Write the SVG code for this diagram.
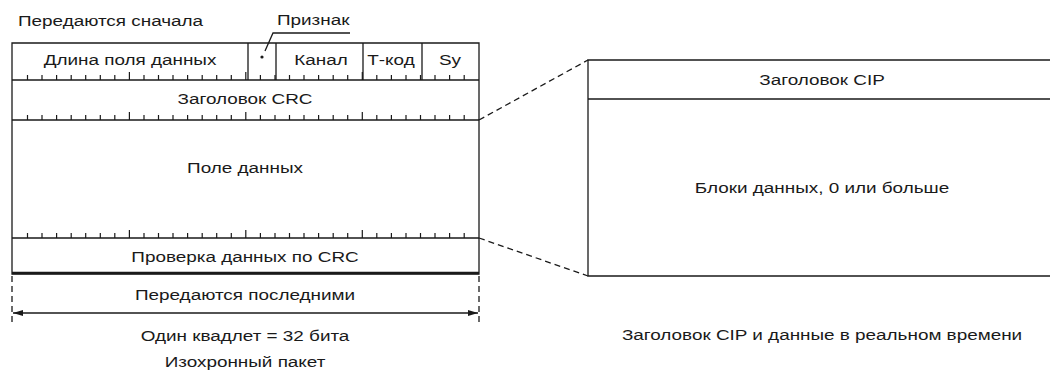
<svg xmlns="http://www.w3.org/2000/svg" width="1050" height="371" viewBox="0 0 1050 371">
<defs>
<style>
text{font-family:"Liberation Sans",Arial,sans-serif;font-size:15.5px;fill:#1a1a1a}
.c{text-anchor:middle}
.ln{stroke:#1a1a1a;stroke-width:1.3;fill:none}
.tk{stroke:#1a1a1a;stroke-width:1.2}
.ds{stroke:#1a1a1a;stroke-width:1.3;stroke-dasharray:6 4;fill:none}
</style>
<marker id="ar" viewBox="0 0 10 6" refX="10" refY="3" markerWidth="10" markerHeight="6" orient="auto-start-reverse" markerUnits="userSpaceOnUse">
<path d="M0,0 L10,3 L0,6 Z" fill="#1a1a1a"/>
</marker>
<g id="ticks">
<path class="tk" d="M27.5,0v-5M42,0v-5M56.6,0v-5M71.2,0v-5M85.7,0v-5M100.3,0v-5M114.8,0v-5M129.4,0v-8M144,0v-5M158.5,0v-5M173,0v-5M187.6,0v-5M202.2,0v-5M216.7,0v-5M231.3,0v-5M245.8,0v-8M260.4,0v-5M275,0v-5M289.5,0v-5M304,0v-5M318.6,0v-5M333.2,0v-5M347.7,0v-5M362.3,0v-8M376.8,0v-5M391.4,0v-5M406,0v-5M420.5,0v-5M435,0v-5M449.6,0v-5M464.2,0v-5"/>
</g>
</defs>

<text transform="translate(18,26) scale(1.22,1)">Передаются сначала</text>

<g id="isochronous-packet">
<path class="ln" d="M12,43H479V274H12Z"/>
<path class="ln" d="M12,80H479M12,120H479M12,238H479"/>
<path stroke="#1a1a1a" stroke-width="2.4" d="M12,273H479"/>
<use href="#ticks" y="80"/>
<use href="#ticks" y="120"/>
<use href="#ticks" y="238"/>
</g>

<g id="field-length"><text class="c" transform="translate(130,65) scale(1.22,1)">Длина поля данных</text></g>
<g id="field-tag">
<path class="ln" d="M248,43V80M276,43V80"/>
<path class="ln" d="M350,33H273L265,51"/>
<circle cx="262" cy="57" r="1.6" fill="#1a1a1a"/>
<text transform="translate(277,25) scale(1.22,1)">Признак</text>
</g>
<g id="field-channel"><path class="ln" d="M363,43V80"/><text class="c" transform="translate(321,65) scale(1.22,1)">Канал</text></g>
<g id="field-tcode"><path class="ln" d="M422,43V80"/><text class="c" transform="translate(391,65) scale(1.22,1)">Т-код</text></g>
<g id="field-sy"><text class="c" transform="translate(450,65) scale(1.22,1)">Sy</text></g>
<g id="header-crc"><text class="c" transform="translate(245,104) scale(1.22,1)">Заголовок CRC</text></g>
<g id="data-field"><text class="c" transform="translate(245,173) scale(1.22,1)">Поле данных</text></g>
<g id="data-crc"><text class="c" transform="translate(245,262) scale(1.22,1)">Проверка данных по CRC</text></g>

<g id="dimension">
<path class="ds" d="M12,276V323M479,276V323"/>
<path class="ln" d="M13,313H478" marker-start="url(#ar)" marker-end="url(#ar)"/>
<text class="c" transform="translate(245,300) scale(1.22,1)">Передаются последними</text>
<text class="c" transform="translate(245,341) scale(1.22,1)">Один квадлет = 32 бита</text>
<text class="c" transform="translate(245,367) scale(1.22,1)">Изохронный пакет</text>
</g>

<g id="cip-block">
<path class="ln" d="M1052,60H588V276H1052M588,99H1052"/>
<text class="c" transform="translate(822,85) scale(1.22,1)">Заголовок CIP</text>
<text class="c" transform="translate(822,193) scale(1.22,1)">Блоки данных, 0 или больше</text>
<text class="c" transform="translate(822,340) scale(1.22,1)">Заголовок CIP и данные в реальном времени</text>
</g>

<g id="connectors">
<path class="ds" d="M479,120L588,60M479,238L588,276"/>
</g>
</svg>
